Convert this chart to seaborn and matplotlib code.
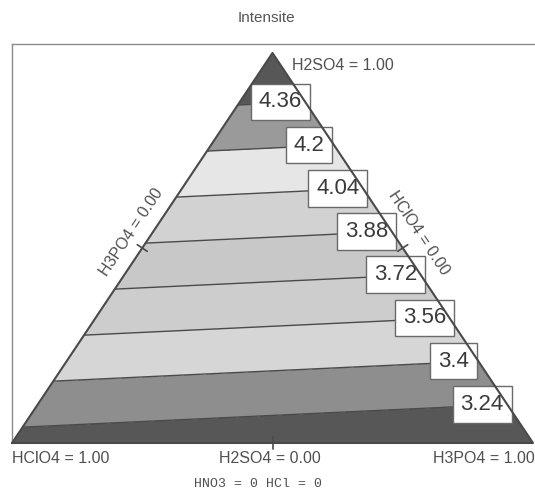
import matplotlib
matplotlib.use('Agg')
import matplotlib.pyplot as plt
import matplotlib.tri as mtri
import numpy as np
import seaborn as sns

# Mixture design: intensity at the pure-component vertices
components = ['HClO4', 'H3PO4', 'H2SO4']
vertex_x = [0.0, 1.0, 0.5]
vertex_y = [0.0, 0.0, 1.0]
intensity = [3.185, 3.097, 4.541]

# Contour levels and their labels
levels = [3.24, 3.40, 3.56, 3.72, 3.88, 4.04, 4.20, 4.36]
level_labels = ['3.24', '3.4', '3.56', '3.72', '3.88', '4.04', '4.2', '4.36']
band_grays = ['#575757', '#8e8e8e', '#d6d6d6', '#cdcdcd', '#c8c8c8',
              '#d2d2d2', '#e6e6e6', '#9a9a9a', '#575757']

sns.set_theme(style='white')
plt.rcParams['font.family'] = ['Liberation Sans', 'DejaVu Sans']

W, H = 535, 493
fig = plt.figure(figsize=(W / 100, H / 100), dpi=100)
# triangle base spans px 12..533, apex at y=53, base at y=443
ax = fig.add_axes([12 / W, 50 / H, 523 / W, 399 / H])
ax.set_xlim(0, 523 / 521)
ax.set_ylim(0, 399 / 390)
ax.set_xticks([])
ax.set_yticks([])
for side in ['right', 'bottom']:
    ax.spines[side].set_visible(False)
for side in ['left', 'top']:
    ax.spines[side].set_color('#8a8a8a')
    ax.spines[side].set_linewidth(1.0)

tri = mtri.Triangulation(vertex_x, vertex_y)
zmin, zmax = min(intensity), max(intensity)
fill_levels = [zmin - 0.01] + levels + [zmax + 0.01]
palette = sns.color_palette(band_grays)
ax.tricontourf(tri, intensity, levels=fill_levels, colors=palette, zorder=1)
ax.tricontour(tri, intensity, levels=levels, colors='#4a4a4a',
              linewidths=1.0, zorder=2)

# label boxes on the right edge (HClO4 = 0)
z_p, z_s = intensity[1], intensity[2]
for lev, lab in zip(levels, level_labels):
    f = (lev - z_p) / (z_s - z_p)
    x = 1 - f / 2 - 0.048
    ax.text(x, f, lab, fontsize=16, color='#3a3a3a', ha='center', va='center',
            zorder=4,
            bbox=dict(boxstyle='square,pad=0.35', facecolor='white',
                      edgecolor='#6a6a6a', linewidth=1.0))

# triangle outline
ax.plot(vertex_x + [vertex_x[0]], vertex_y + [vertex_y[0]], color='#4a4a4a',
        linewidth=1.5, zorder=5, clip_on=False)

# midpoint ticks, perpendicular in pixel space
sx, sy = 521.0, 390.0
for i, j in [(0, 1), (1, 2), (2, 0)]:
    mx = (vertex_x[i] + vertex_x[j]) / 2
    my = (vertex_y[i] + vertex_y[j]) / 2
    dx = (vertex_x[j] - vertex_x[i]) * sx
    dy = (vertex_y[j] - vertex_y[i]) * sy
    n = np.hypot(dx, dy)
    px, py = -dy / n * 6, dx / n * 6
    ax.plot([mx - px / sx, mx + px / sx], [my - py / sy, my + py / sy],
            color='#4a4a4a', linewidth=1.2, zorder=5, clip_on=False)

txt = dict(fontsize=11.5, color='#505050', clip_on=False)
ax.text(0.537, 0.969, 'H2SO4 = 1.00', ha='left', va='center', **txt)
ax.text(0.230, 0.541, 'H3PO4 = 0.00', ha='center', va='center',
        rotation=56.3, **txt)
ax.text(0.781, 0.538, 'HClO4 = 0.00', ha='center', va='center',
        rotation=-56.3, **txt)
ax.text(0.0, -0.0385, 'HClO4 = 1.00', ha='left', va='center', **txt)
ax.text(0.495, -0.0385, 'H2SO4 = 0.00', ha='center', va='center', **txt)
ax.text(1.004, -0.0385, 'H3PO4 = 1.00', ha='right', va='center', **txt)
ax.text(0.472, -0.105, 'HNO3 = 0 HCl = 0', ha='center', va='center',
        fontsize=9.5, color='#505050', family=['Liberation Mono', 'DejaVu Sans Mono'],
        clip_on=False)

fig.text(266 / W, 1 - 18 / H, 'Intensite', ha='center', va='center',
         fontsize=11, color='#555555')

fig.savefig('out.png', dpi=100)
